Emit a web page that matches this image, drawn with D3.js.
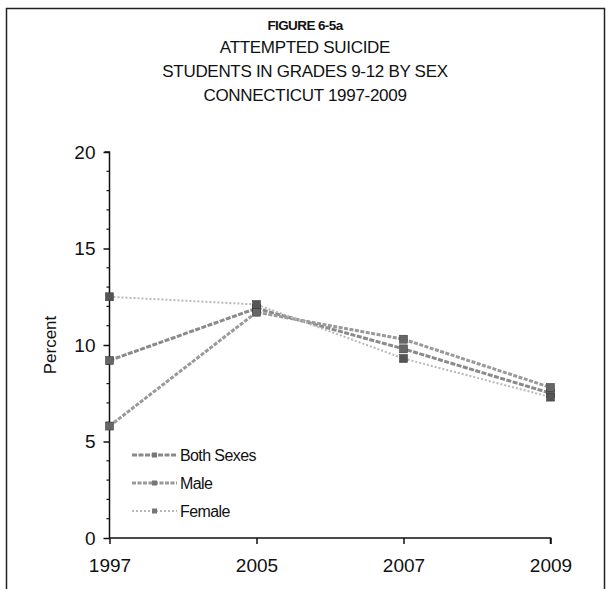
<!DOCTYPE html>
<html>
<head>
<meta charset="utf-8">
<script src="https://cdn.jsdelivr.net/npm/d3@7"></script>
<style>
  html, body { margin: 0; padding: 0; background: #fff; }
  svg text { font-family: "Liberation Sans", Arial, sans-serif; fill: #111; }
</style>
</head>
<body>
<svg id="chart" width="613" height="589"></svg>
<script>
// ---- data ----
const years = ["1997", "2005", "2007", "2009"];
const bothSexes = [9.2, 11.9, 9.8, 7.5];
const male = [5.8, 11.7, 10.3, 7.8];
const female = [12.5, 12.1, 9.3, 7.3];
const seriesNames = ["Both Sexes", "Male", "Female"];
const yTicks = [0, 5, 10, 15, 20];
const titleLines = ["FIGURE 6-5a", "ATTEMPTED SUICIDE", "STUDENTS IN GRADES 9-12 BY SEX", "CONNECTICUT 1997-2009"];

const seriesValues = [bothSexes, male, female];
const styles = [
  { stroke: "#8a8a8a", width: 3, dash: "5,1.5" },
  { stroke: "#9a9a9a", width: 3, dash: "4,1.5" },
  { stroke: "#b8b8b8", width: 2, dash: "2,2" }
];

const svg = d3.select("#chart");

// frame
svg.append("rect").attr("x", 6.5).attr("y", 8.5).attr("width", 598).attr("height", 600)
  .attr("fill", "none").attr("stroke", "#222").attr("stroke-width", 1.5);

// titles
const titleY = [25, 47, 71.5, 95];
titleLines.forEach((t, i) => {
  svg.append("text").attr("x", 305).attr("y", titleY[i]).attr("dy", "0.35em")
    .attr("text-anchor", "middle")
    .style("font-size", i === 0 ? "13.5px" : "17px")
    .style("font-weight", i === 0 ? "bold" : "normal")
    .style("letter-spacing", i === 0 ? "-0.6px" : "-0.3px")
    .text(t);
});

const x = d3.scalePoint().domain(years).range([109.5, 550.5]);
const y = d3.scaleLinear().domain([0, 20]).range([538, 152]);

// y axis
const yAxis = d3.axisLeft(y).tickValues(yTicks).tickSize(6).tickPadding(8);
const gy = svg.append("g").attr("transform", "translate(109.5,0)").call(yAxis);
gy.select(".domain").attr("d", "M-5," + y(20) + "H0V" + y(0)).attr("stroke", "#111").attr("stroke-width", 1.5);
gy.selectAll(".tick line").attr("stroke", "#111").attr("stroke-width", 1.5);
gy.selectAll(".tick text").style("font-size", "19px").style("font-family", "'Liberation Sans', Arial, sans-serif").attr("fill", "#111");
// minor ticks
const minor = d3.range(0, 21).filter(v => v % 5 !== 0);
gy.selectAll(".minor").data(minor).enter().append("line")
  .attr("x1", -3).attr("x2", 0).attr("y1", d => y(d)).attr("y2", d => y(d))
  .attr("stroke", "#111").attr("stroke-width", 1.2);

// x axis
const xAxis = d3.axisBottom(x).tickSize(6).tickPadding(15);
const gx = svg.append("g").attr("transform", "translate(0," + y(0) + ")").call(xAxis);
gx.select(".domain").attr("d", "M" + x("1997") + ",0H" + x("2009") + "V6").attr("stroke", "#111").attr("stroke-width", 1.5);
gx.selectAll(".tick line").attr("stroke", "#111").attr("stroke-width", 1.5);
gx.selectAll(".tick text").style("font-size", "19px").style("font-family", "'Liberation Sans', Arial, sans-serif").attr("fill", "#111");

// y axis label
svg.append("text").attr("transform", "translate(50," + y(10) + ") rotate(-90)")
  .attr("text-anchor", "middle").attr("dy", "0.35em").style("font-size", "17px").text("Percent");

// lines
const line = d3.line().x((d, i) => x(years[i])).y(d => y(d));
seriesValues.forEach((vals, si) => {
  const s = styles[si];
  svg.append("path").datum(vals).attr("d", line).attr("fill", "none")
    .attr("stroke", s.stroke).attr("stroke-width", s.width).attr("stroke-dasharray", s.dash);
});
// markers
seriesValues.forEach((vals, si) => {
  svg.selectAll(".m" + si).data(vals).enter().append("rect")
    .attr("x", (d, i) => x(years[i]) - 4).attr("y", d => y(d) - 4)
    .attr("width", 8).attr("height", 8)
    .attr("fill", si === 2 ? "#555" : "#666").attr("stroke", "#333").attr("stroke-width", 0.5);
});

// legend
const legY = [455, 483, 511];
seriesNames.forEach((n, i) => {
  const s = styles[i];
  svg.append("line").attr("x1", 132).attr("x2", 177).attr("y1", legY[i]).attr("y2", legY[i])
    .attr("stroke", s.stroke).attr("stroke-width", s.width).attr("stroke-dasharray", s.dash);
  svg.append("rect").attr("x", 152).attr("y", legY[i] - 2.5).attr("width", 5).attr("height", 5)
    .attr("fill", "#777");
  svg.append("text").attr("x", 180).attr("y", legY[i]).attr("dy", "0.35em")
    .style("font-size", "16px").style("letter-spacing", "-0.6px").text(n);
});
</script>
</body>
</html>
